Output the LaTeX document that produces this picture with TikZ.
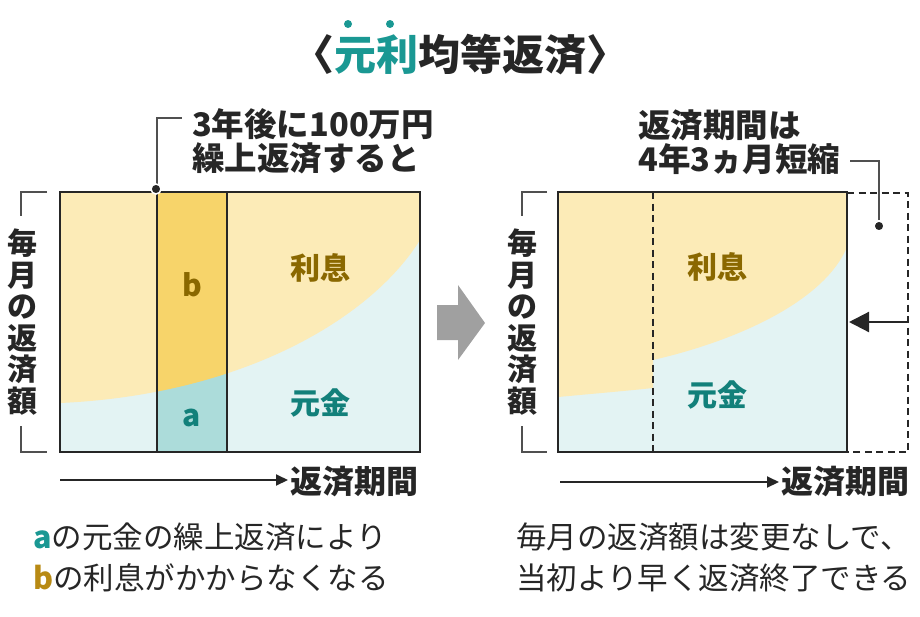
\documentclass[tikz,border=0pt]{standalone}
\usepackage{fontspec}
\setmainfont{Noto Sans CJK JP}
\usepackage{xcolor}
\usetikzlibrary{arrows.meta}
\definecolor{InkGray}{RGB}{38,38,38}
\definecolor{LeadGray}{RGB}{80,80,80}
\definecolor{TealMark}{RGB}{26,152,147}
\definecolor{TealText}{RGB}{18,128,122}
\definecolor{GoldText}{RGB}{138,104,0}
\definecolor{GoldMark}{RGB}{184,138,20}
\definecolor{RisokuFill}{RGB}{252,235,183}
\definecolor{GankinFill}{RGB}{227,243,243}
\definecolor{BFill}{RGB}{247,212,106}
\definecolor{AFill}{RGB}{172,220,218}
\definecolor{ArrowGray}{RGB}{160,160,160}
\tikzset{
  boxline/.style={draw=InkGray, line width=2.7pt},
  dashline/.style={draw=InkGray, line width=2.8pt, dash pattern=on 7pt off 4.5pt},
  leader/.style={draw=LeadGray, line width=1.5pt},
  bracket/.style={draw=LeadGray, line width=1.8pt},
  tapdot/.style={circle, fill=InkGray, draw=white, line width=1.5pt, inner sep=0pt, minimum size=10pt},
  emdot/.style={circle, fill=TealMark, inner sep=0pt, minimum size=8pt},
  titletxt/.style={font=\fontsize{42}{46}\selectfont\bfseries, text=InkGray, inner sep=0pt},
  callout/.style={font=\fontsize{32.5}{34}\selectfont\bfseries, text=InkGray, align=left, inner sep=0pt},
  ylab/.style={font=\fontsize{30}{31.5}\selectfont\bfseries, text=InkGray, align=center, inner sep=0pt},
  risoku/.style={font=\fontsize{30}{32}\selectfont\bfseries, text=GoldText, inner sep=0pt},
  gankin/.style={font=\fontsize{30}{32}\selectfont\bfseries, text=TealText, inner sep=0pt},
  axislab/.style={font=\fontsize{32}{34}\selectfont\bfseries, text=InkGray, inner sep=2pt},
  axisarrow/.style={-{Triangle[length=12pt, width=11pt]}, draw=InkGray, line width=2pt},
  shrinkarrow/.style={-{Triangle[length=20pt, width=20pt]}, draw=InkGray, line width=2.2pt},
  note/.style={font=\fontsize{30.5}{32}\selectfont, text=InkGray, inner sep=0pt},
}
\begin{document}
\begin{tikzpicture}[x=1pt, y=-1pt]
  \useasboundingbox (0,0) rectangle (920,616);

  % title
  \node[titletxt] (title) at (460,55) {〈\textcolor{TealMark}{元利}均等返済〉};
  \node[emdot] (dotA) at (348,24) {};
  \node[emdot] (dotB) at (390,24) {};

  % left chart
  \fill[GankinFill] (60,192) rectangle (420,452);
  \fill[RisokuFill] (60,192) -- (60,403) .. controls (240,395) and (370,320) .. (420,240) -- (420,192) -- cycle;
  \begin{scope}
    \clip (157,192) rectangle (227,452);
    \fill[AFill] (157,192) rectangle (227,452);
    \fill[BFill] (60,192) -- (60,403) .. controls (240,395) and (370,320) .. (420,240) -- (420,192) -- cycle;
  \end{scope}
  \draw[boxline] (157,192) -- (157,452);
  \draw[boxline] (227,192) -- (227,452);
  \draw[boxline] (60,192) rectangle (420,452);

  \node[risoku] (riL) at (320,268) {利息};
  \node[gankin] (gaL) at (320,403) {元金};
  \node[risoku] (bL) at (192,285) {b};
  \node[gankin] (aL) at (192,418) {a};

  \draw[bracket] (47,192) -- (21,192) -- (21,216);
  \draw[bracket] (21,426) -- (21,452) -- (47,452);
  \node[ylab] (yL) at (22,322) {毎\\月\\の\\返\\済\\額};

  \node[callout, anchor=west] (noteL) at (192,141) {3年後に100万円\\繰上返済すると};
  \coordinate (kneeL) at (182,118);
  \draw[leader] (157,190) |- (kneeL);
  \node[tapdot] (tapL) at (156,189) {};

  \coordinate (tL0) at (60,480);
  \node[axislab, anchor=west] (tL) at (288,482) {返済期間};
  \draw[axisarrow] (tL0) -- (tL.west |- tL0);

  \node[note, anchor=west] (noteA) at (33,537) {\textcolor{TealMark}{\bfseries a}の元金の繰上返済により};
  \node[note, anchor=west] (noteB) at (33,578) {\textcolor{GoldMark}{\bfseries b}の利息がかからなくなる};

  % big arrow
  \fill[ArrowGray] (437,305) -- (458,305) -- (458,285) -- (485,323) -- (458,360) -- (458,340) -- (437,340) -- cycle;

  % right chart
  \fill[GankinFill] (558,192) rectangle (847,452);
  \fill[RisokuFill] (558,192) -- (558,397) .. controls (590,394) and (625,391) .. (653,388) -- (653,192) -- cycle;
  \fill[RisokuFill] (653,192) -- (653,360) .. controls (740,340) and (825,300) .. (847,247) -- (847,192) -- cycle;
  \draw[dashline] (653,192) -- (653,452);
  \draw[dashline] (847,193) -- (908,193) -- (908,452) -- (847,452);
  \draw[boxline] (558,192) rectangle (847,452);

  \node[risoku] (riR) at (717,267) {利息};
  \node[gankin] (gaR) at (717,395) {元金};

  \draw[bracket] (547,192) -- (522,192) -- (522,216);
  \draw[bracket] (522,426) -- (522,452) -- (547,452);
  \node[ylab] (yR) at (522,322) {毎\\月\\の\\返\\済\\額};

  \node[callout, anchor=west] (noteR) at (638,142) {返済期間は\\4年3ヵ月短縮};
  \coordinate (kneeR) at (850,161);
  \node[tapdot] (tapR) at (879,226) {};
  \draw[leader] (kneeR) -| (tapR.north);

  \coordinate (shrinkFrom) at (908,322);
  \coordinate (shrinkTo) at (849,322);
  \draw[shrinkarrow] (shrinkFrom) -- (shrinkTo);

  \coordinate (tR0) at (560,482);
  \node[axislab, anchor=west] (tR) at (779,482) {返済期間};
  \draw[axisarrow] (tR0) -- (tR.west |- tR0);

  \node[note, anchor=west] (noteC) at (516,537) {毎月の返済額は変更なしで、};
  \node[note, anchor=west] (noteD) at (516,578) {当初より早く返済終了できる};
\end{tikzpicture}
\end{document}
